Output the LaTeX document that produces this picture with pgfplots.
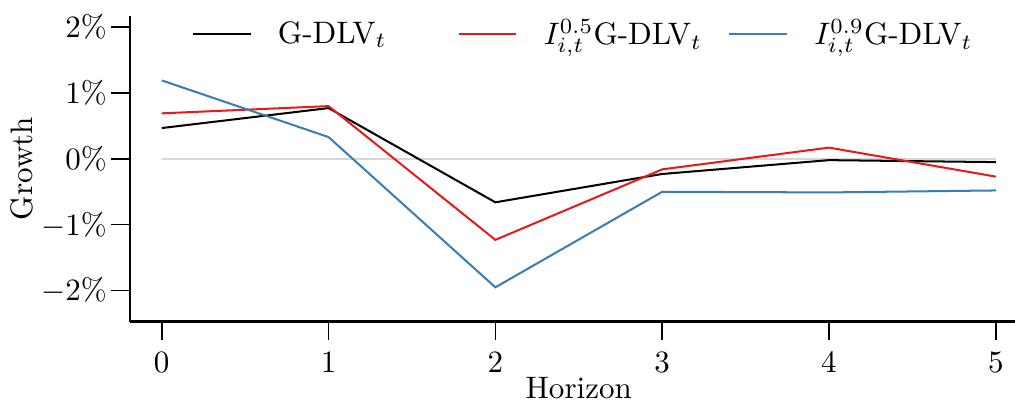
\documentclass[border=0pt]{standalone}
\usepackage{pgfplots}
\pgfplotsset{compat=1.18}
\definecolor{cred}{RGB}{228,26,28}
\definecolor{cblue}{RGB}{55,126,184}
\definecolor{zgray}{RGB}{215,215,215}
\begin{document}
\begin{tikzpicture}
\begin{axis}[
  name=ax,
  scale only axis,
  width=285.1pt, height=98.5pt,
  xmin=-0.19, xmax=5.115,
  ymin=-2.47, ymax=2.17,
  axis x line*=bottom, axis y line*=left,
  axis line style={line width=0.7pt},
  tick align=outside,
  major tick length=6pt,
  tick style={line width=0.5pt, black},
  xtick={0,1,2,3,4,5},
  ytick={-2,-1,0,1,2},
  yticklabel={$\pgfmathprintnumber{\tick}\%$},
  yticklabel style={xshift=2pt},
  xticklabel style={yshift=-0.5pt},
  xlabel={Horizon}, ylabel={Growth},
  xlabel style={at={(axis cs:2.5,-2.47)}, anchor=north, yshift=-14.4pt},
  every axis y label/.style={at={(axis description cs:0,0.5)}, xshift=-35pt, rotate=90, anchor=center},
  legend columns=3,
  legend style={draw=none, fill=none, inner sep=0pt, outer sep=0pt,
    at={(axis description cs:0,1)}, anchor=west, xshift=20pt, yshift=-6.0pt,
    /tikz/every odd column/.append style={column sep=6.5pt},
    /tikz/column 2/.style={column sep=21pt},
    /tikz/column 4/.style={column sep=6.5pt}},
  legend image code/.code={\draw[#1] (0pt,0pt) -- (18.5pt,0pt);},
]
\addplot[zgray, line width=0.5pt, forget plot] coordinates {(0,0) (5,0)};
\addplot[black, line width=0.65pt] coordinates {(0,0.467) (1,0.77) (2,-0.66) (3,-0.23) (4,-0.02) (5,-0.05)};
\addlegendentry{G-DLV$_t$}
\addplot[cred, line width=0.65pt] coordinates {(0,0.69) (1,0.80) (2,-1.23) (3,-0.16) (4,0.17) (5,-0.27)};
\addlegendentry{$I_{i,t}^{0.5}$G-DLV$_t$}
\addplot[cblue, line width=0.65pt] coordinates {(0,1.19) (1,0.33) (2,-1.95) (3,-0.50) (4,-0.51) (5,-0.48)};
\addlegendentry{$I_{i,t}^{0.9}$G-DLV$_t$}
\end{axis}
\pgfresetboundingbox
\path[use as bounding box] ([xshift=-41.9pt,yshift=-25.2pt]ax.south west) rectangle ([yshift=5.1pt]ax.north east);
\end{tikzpicture}
\end{document}
